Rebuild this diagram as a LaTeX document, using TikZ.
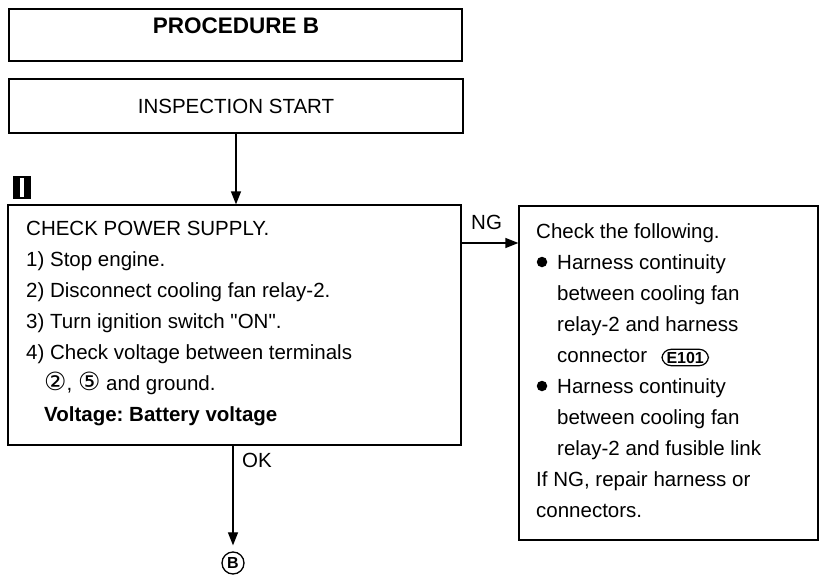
\documentclass[tikz,border=0pt]{standalone}
\usepackage{fontspec}
\setmainfont{Liberation Sans}
\newfontfamily\symf{DejaVu Sans}
\usetikzlibrary{arrows.meta,positioning}
\frenchspacing
\begin{document}
\begin{tikzpicture}[x=1pt,y=-1pt,
  boxs/.style={draw,line width=1.2pt,inner sep=0pt},
  txt/.style={anchor=base west,inner sep=0pt,font=\fontsize{20.5}{24}\selectfont},
  conn/.style={line width=1.2pt,-{Triangle[length=13pt,width=10pt]}},
  lbl/.style={inner sep=0pt,font=\fontsize{20.5}{24}\selectfont},
  bul/.style={circle,fill=black,minimum size=10.5pt,inner sep=0pt}]
\useasboundingbox (0,0) rectangle (823,581);
% header boxes
\node[boxs,minimum width=453pt,minimum height=52pt] (proc) at (235.5,35) {};
\node[lbl,font=\bfseries\fontsize{22.5}{24}\selectfont] (proct) at (236,26) {PROCEDURE B};
\node[boxs,minimum width=454pt,minimum height=54pt,font=\fontsize{20.5}{24}\selectfont] (start) at (236,106) {INSPECTION START};
% marker
\node[fill=black,minimum width=18pt,minimum height=23pt,inner sep=0pt] (mark) at (22,187) {};
\fill[white] ([xshift=-1.6pt,yshift=9.5pt]mark.center) rectangle ([xshift=1.6pt,yshift=-9.5pt]mark.center);
% main box
\node[boxs,minimum width=453pt,minimum height=240pt] (main) at (234.5,325) {};
\node[txt] (m0) at (26,235) {CHECK POWER SUPPLY.};
\node[txt] (m1) at (26,266) {1) Stop engine.};
\node[txt] (m2) at (26,297) {2) Disconnect cooling fan relay-2.};
\node[txt] (m3) at (26,328) {3) Turn ignition switch \textquotedbl ON\textquotedbl.};
\node[txt] (m4) at (26,359) {4) Check voltage between terminals};
\node[txt] (m5) at (44,390) {{\symf\fontsize{25}{24}\selectfont ②}, {\symf\fontsize{25}{24}\selectfont ⑤} and ground.};
\node[txt,font=\bfseries\fontsize{20.5}{24}\selectfont] (m6) at (44,421) {Voltage: Battery voltage};
% NG box
\node[boxs,minimum width=299pt,minimum height=334pt] (ngbox) at (668.5,373) {};
\node[txt] (n0) at (536,238) {Check the following.};
\node[bul] (b1) at (542,262) {};
\node[txt] (n1) at (557,269) {Harness continuity};
\node[txt] (n2) at (557,300) {between cooling fan};
\node[txt] (n3) at (557,331) {relay-2 and harness};
\node[txt] (n4) at (557,362) {connector};
\node[draw,line width=1.2pt,rounded corners=9pt,inner xsep=4.5pt,inner ysep=2.5pt,anchor=base west,font=\bfseries\fontsize{16}{17}\selectfont] (e101) at ([xshift=14pt,yshift=-1pt]n4.base east) {E101};
\node[bul] (b2) at (542,386) {};
\node[txt] (n5) at (557,393) {Harness continuity};
\node[txt] (n6) at (557,424) {between cooling fan};
\node[txt] (n7) at (557,455) {relay-2 and fusible link};
\node[txt] (n8) at (536,486) {If NG, repair harness or};
\node[txt] (n9) at (536,517) {connectors.};
% end marker
\node[draw,circle,line width=1.3pt,minimum size=22pt,inner sep=0pt,font=\bfseries\fontsize{16}{17}\selectfont] (bend) at (233,563) {B};
% connectors
\coordinate (ngy) at (0,243);
\draw[conn] (start.south) -- (start.south |- main.north);
\draw[conn] (main.east |- ngy) -- (ngbox.west |- ngy);
\node[lbl,anchor=south west] (nglbl) at (471,230) {NG};
\draw[conn,shorten >=6pt] (main.south -| bend.north) -- (bend.north);
\node[lbl,anchor=north west] (oklbl) at (242,453) {OK};
\end{tikzpicture}
\end{document}
